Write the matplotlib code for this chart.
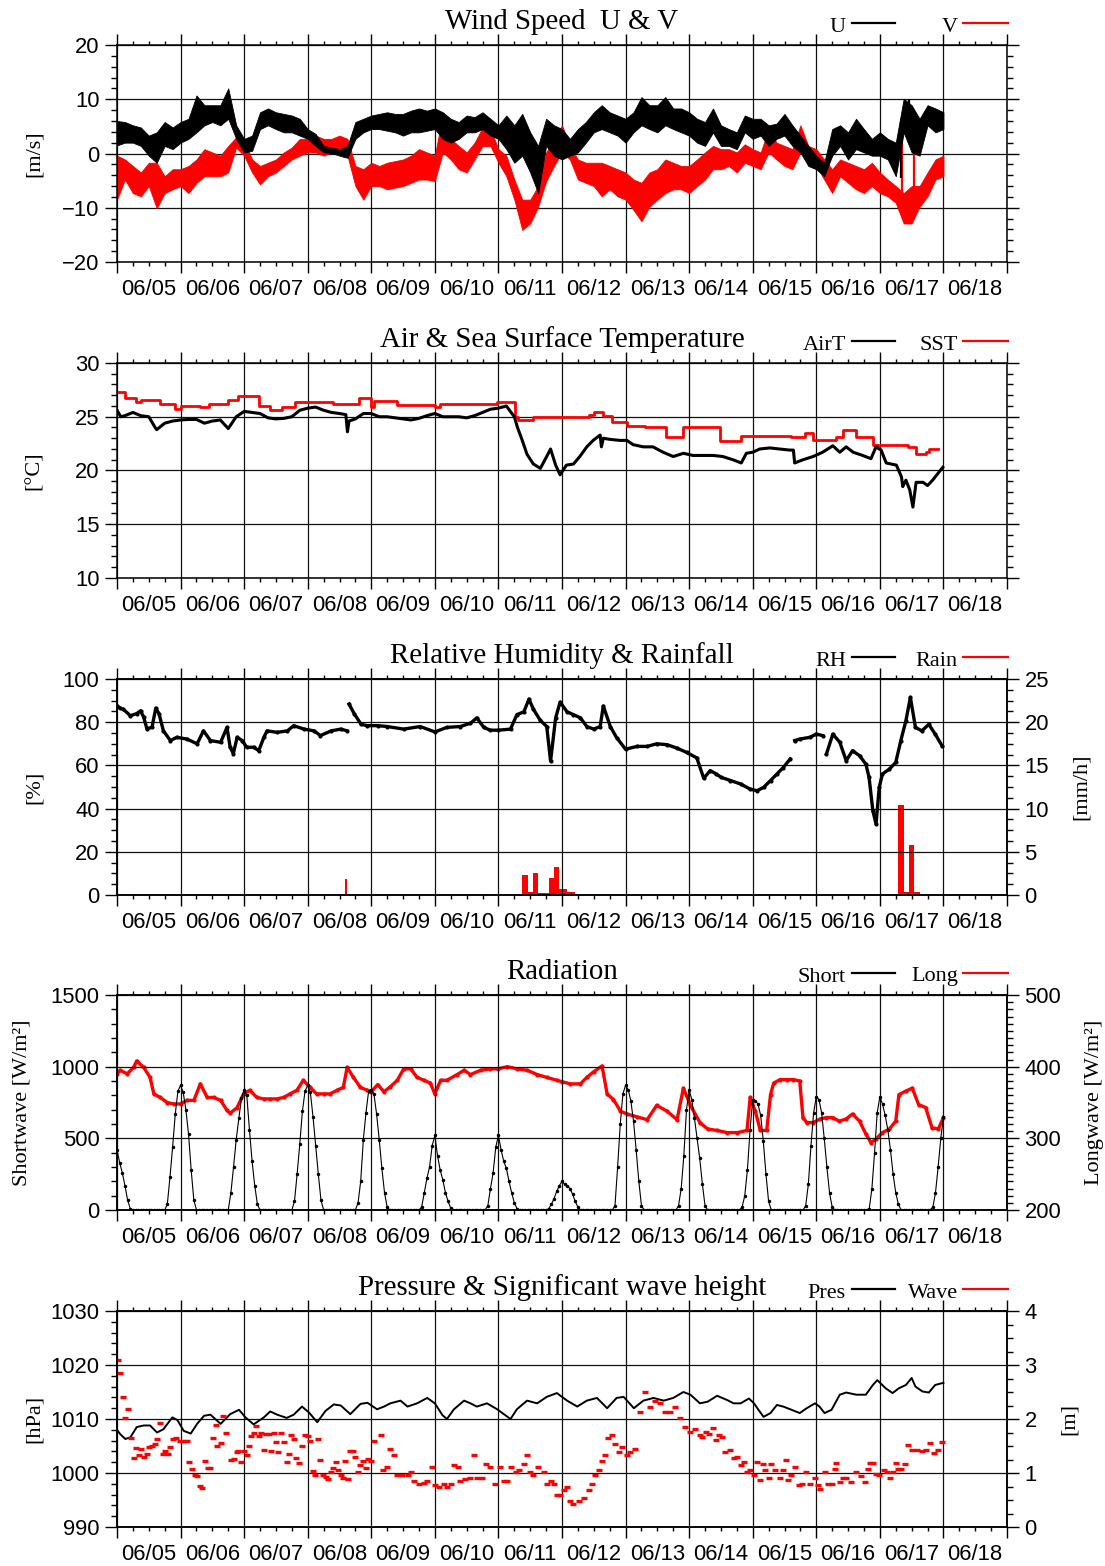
#!/usr/bin/env python
# -*- coding:UTF-8 -*-
# Buoy time series, 06/05 - 06/18 : wind, temperature, humidity/rain, radiation, pressure/wave

import numpy as np
import matplotlib
matplotlib.use('Agg')
import matplotlib.pyplot as plt
from matplotlib.ticker import MultipleLocator, FuncFormatter
from matplotlib.lines import Line2D

# time axis is in days since 06/05 00:00
day_labels = ['06/05', '06/06', '06/07', '06/08', '06/09', '06/10', '06/11',
              '06/12', '06/13', '06/14', '06/15', '06/16', '06/17', '06/18']

# ---- wind: 3-hourly envelope (min / max) of U and V [m/s] ----
wind_step = 0.125
u_lo = [1.5, 2.0, 2.0, 1.4, -0.4, -1.7, 1.4, 0.8, 2.0, 2.7,
        3.9, 5.2, 5.8, 5.2, 6.4, 2.7, 0.2, 0.5, 4.5, 5.2,
        4.5, 3.9, 3.9, 3.3, 2.7, 1.4, 0.2, 0.1, -0.4, -0.8,
        2.7, 3.9, 4.5, 4.5, 4.2, 3.9, 3.3, 3.9, 3.9, 4.2,
        4.5, 2.7, 2.0, 2.7, 3.9, 3.9, 4.5, 3.3, 2.7, 0.8,
        -1.7, -0.4, -3.5, -7.3, 1.4, -0.4, -1.1, -0.4, 0.2, 2.0,
        3.9, 4.5, 3.9, 3.3, 2.0, 3.9, 5.2, 4.5, 3.9, 5.2,
        4.5, 3.9, 3.3, 2.0, 1.4, 3.9, 1.4, 1.4, 0.8, 3.9,
        2.7, 3.3, 1.4, 2.7, 3.3, 1.4, 0.2, -2.3, -2.9, -4.2,
        -0.4, 1.4, -1.1, 0.8, 0.2, -0.4, -0.4, -1.1, -4.2, 3.9,
        0.2, -0.4, 5.2, 3.9, 4.5]
u_hi = [6.0, 5.8, 5.2, 4.8, 3.3, 3.9, 5.8, 4.8, 5.8, 6.4,
        10.7, 8.9, 8.9, 8.9, 12.0, 5.2, 2.7, 3.3, 7.6, 8.3,
        7.6, 7.3, 7.0, 6.4, 4.5, 3.6, 1.4, 1.1, 0.8, 1.4,
        5.8, 6.4, 7.0, 7.3, 7.6, 7.3, 7.3, 7.9, 8.3, 7.9,
        8.3, 7.6, 6.4, 5.8, 7.0, 6.7, 7.6, 6.4, 5.2, 7.0,
        5.2, 7.3, 3.9, 1.4, 6.4, 5.2, 4.5, 2.7, 4.5, 5.8,
        7.6, 8.9, 7.6, 7.0, 6.4, 7.6, 10.4, 8.9, 8.9, 10.4,
        8.3, 8.3, 7.6, 6.4, 5.8, 8.3, 5.2, 4.5, 3.9, 7.0,
        6.4, 6.4, 5.2, 5.5, 7.3, 5.2, 3.3, 1.4, -0.4, -1.7,
        4.5, 5.2, 3.9, 6.4, 4.5, 2.7, 3.9, 2.7, 2.0, 10.1,
        8.9, 6.4, 8.9, 8.3, 7.6]
v_lo = [-8.5, -4.8, -7.3, -7.9, -6.0, -10.1, -7.3, -6.6, -6.0, -7.3,
        -5.4, -4.2, -4.2, -4.2, -3.5, 1.1, -0.4, -3.5, -5.7, -4.2,
        -3.5, -2.3, -1.1, -0.4, 0.2, 0.2, -0.4, 0.2, 0.2, -0.4,
        -6.0, -8.5, -6.0, -6.0, -6.6, -6.3, -6.0, -5.4, -4.8, -4.8,
        -5.1, 0.2, -1.1, -2.9, -3.5, -1.1, 1.4, 1.4, -1.7, -4.2,
        -8.5, -14.1, -12.9, -9.8, -5.1, -2.3, 0.2, -1.1, -4.8, -5.4,
        -6.0, -7.9, -6.6, -7.9, -8.5, -10.4, -12.5, -9.8, -8.5, -7.3,
        -6.6, -6.6, -7.3, -6.0, -4.8, -2.9, -2.9, -2.3, -3.5, -1.7,
        -2.3, -2.9, 0.2, -1.1, -2.3, -2.9, 0.2, -1.1, -2.3, -4.8,
        -7.3, -4.2, -5.4, -6.6, -7.3, -6.0, -7.3, -7.9, -9.1, -12.9,
        -12.9, -9.8, -7.9, -4.8, -4.2]
v_hi = [-0.4, -1.1, -2.3, -3.5, -1.7, -1.7, -4.2, -2.9, -2.9, -2.3,
        -1.1, 0.8, 0.2, -0.4, 1.4, 3.0, 2.4, -1.1, -2.3, -1.7,
        -1.1, 0.2, 1.1, 2.7, 2.7, 3.3, 2.7, 2.7, 3.3, 2.7,
        -2.3, -2.9, -1.7, -2.3, -1.7, -1.4, -1.1, -0.4, 0.8, 0.2,
        -0.4, 7.3, 2.7, 1.4, 0.2, 2.0, 4.8, 4.5, 0.8, -0.4,
        -4.8, -8.5, -8.5, -6.0, 0.2, 2.7, 5.2, 1.4, -1.1, -1.7,
        -1.7, -1.7, -2.3, -2.9, -3.5, -4.8, -5.4, -3.5, -2.9, -1.1,
        -1.7, -2.3, -2.3, -1.1, 0.2, 1.4, 0.8, 0.8, 0.2, 1.7,
        0.8, 0.2, 4.5, 2.0, 1.4, 0.8, 5.2, 1.4, 0.8, -1.1,
        -2.9, -1.1, -1.7, -2.3, -2.9, -1.7, -3.5, -4.8, -6.0, -7.3,
        -6.0, -6.0, -3.5, -1.1, -0.4]
# short gust spikes on 06/17
u_spike_t = [12.33, 12.46]
u_spike_lo = [-4.5, 2.0]
u_spike_hi = [6.0, 10.0]
v_spike_t = [12.35, 12.53]
v_spike_lo = [-10.0, -9.0]
v_spike_hi = [5.5, 4.0]

# ---- air temperature and SST [degC] ----
air_t = [0.00, 0.06, 0.125, 0.25, 0.375, 0.50, 0.60, 0.625, 0.75, 0.875,
         1.00, 1.125, 1.25, 1.375, 1.50, 1.625, 1.75, 1.875, 2.00, 2.125,
         2.25, 2.375, 2.50, 2.625, 2.75, 2.875, 3.00, 3.125, 3.25, 3.375,
         3.50, 3.60, 3.625, 3.65, 3.75, 3.875, 4.00, 4.125, 4.25, 4.375,
         4.50, 4.625, 4.75, 4.875, 5.00, 5.125, 5.25, 5.375, 5.50, 5.625,
         5.75, 5.875, 6.00, 6.125, 6.25, 6.30, 6.375, 6.45, 6.55, 6.66,
         6.75, 6.82, 6.90, 6.97, 7.07, 7.18, 7.28, 7.39, 7.49, 7.60,
         7.62, 7.65, 7.75, 7.91, 8.02, 8.12, 8.28, 8.43, 8.59, 8.75,
         8.91, 9.06, 9.22, 9.38, 9.53, 9.69, 9.82, 9.90, 10.00, 10.11,
         10.27, 10.42, 10.58, 10.64, 10.66, 10.79, 10.95, 11.10, 11.26, 11.37,
         11.47, 11.58, 11.73, 11.86, 11.94, 12.02, 12.10, 12.26, 12.34, 12.36,
         12.41, 12.47, 12.52, 12.57, 12.68, 12.75, 12.83, 12.91, 12.99]
air_c = [25.6, 25.0, 25.1, 25.4, 25.1, 25.0, 24.0, 23.8, 24.4, 24.6,
         24.7, 24.75, 24.75, 24.4, 24.6, 24.7, 23.9, 25.0, 25.5, 25.4,
         25.3, 24.9, 24.8, 24.85, 25.0, 25.6, 25.8, 25.9, 25.6, 25.4,
         25.3, 25.2, 23.6, 24.6, 24.8, 25.3, 25.3, 25.0, 25.0, 24.9,
         24.8, 24.7, 24.85, 25.1, 25.3, 25.0, 25.0, 25.0, 24.9, 25.1,
         25.4, 25.7, 25.8, 26.0, 25.0, 24.0, 22.8, 21.5, 20.6, 20.2,
         21.2, 22.0, 20.5, 19.6, 20.5, 20.6, 21.3, 22.2, 22.8, 23.3,
         22.2, 23.0, 22.9, 22.8, 22.8, 22.4, 22.2, 22.2, 21.7, 21.3,
         21.6, 21.4, 21.4, 21.4, 21.3, 21.0, 20.7, 21.6, 21.7, 22.0,
         22.1, 22.0, 21.9, 21.9, 20.7, 21.0, 21.3, 21.7, 22.3, 21.7,
         22.2, 21.7, 21.4, 21.1, 22.2, 21.9, 20.7, 20.5, 19.4, 18.5,
         19.1, 18.2, 16.6, 18.9, 18.9, 18.6, 19.1, 19.7, 20.3]
sst_t = [0.00, 0.13, 0.30, 0.37, 0.68, 0.92, 1.00, 1.30, 1.45, 1.75,
         1.90, 2.23, 2.40, 2.60, 2.80, 3.40, 3.80, 4.00, 4.05, 4.40,
         5.00, 5.08, 5.98, 6.26, 6.30, 6.55, 7.42, 7.50, 7.65, 7.78,
         8.02, 8.30, 8.64, 8.91, 9.48, 9.82, 10.61, 10.82, 10.95, 11.31,
         11.42, 11.63, 11.89, 12.44, 12.57, 12.73, 12.78, 12.91]
sst_c = [27.3, 26.7, 26.4, 26.6, 26.2, 25.7, 26.0, 25.9, 26.2, 26.6,
         26.9, 26.0, 25.6, 25.9, 26.4, 26.2, 26.7, 25.9, 26.5, 26.1,
         25.9, 26.2, 26.4, 25.0, 24.7, 25.0, 25.15, 25.4, 25.1, 24.5,
         24.1, 24.0, 23.1, 24.0, 22.7, 23.2, 23.1, 23.5, 22.8, 23.1,
         23.8, 23.1, 22.4, 22.2, 21.5, 21.7, 22.0, 22.0]

# ---- relative humidity [%] (nan = gap) and hourly rain [mm/h] ----
nan = np.nan
rh_t = [0.00, 0.05, 0.10, 0.21, 0.31, 0.37, 0.42, 0.47, 0.55, 0.61,
        0.66, 0.73, 0.84, 0.94, 1.10, 1.26, 1.36, 1.47, 1.63, 1.73,
        1.78, 1.83, 1.89, 1.97, 2.04, 2.15, 2.23, 2.31, 2.36, 2.52,
        2.68, 2.78, 2.94, 3.10, 3.20, 3.37, 3.52, 3.62, 3.635, 3.65,
        3.73, 3.84, 3.94, 4.10, 4.25, 4.51, 4.77, 5.00, 5.19, 5.40,
        5.56, 5.66, 5.77, 5.87, 6.00, 6.19, 6.29, 6.40, 6.48, 6.55,
        6.66, 6.76, 6.82, 6.90, 6.97, 7.08, 7.18, 7.29, 7.39, 7.50,
        7.60, 7.65, 7.76, 7.86, 8.00, 8.18, 8.34, 8.49, 8.65, 8.81,
        8.96, 9.12, 9.23, 9.33, 9.43, 9.50, 9.65, 9.81, 9.96, 10.07,
        10.17, 10.28, 10.38, 10.48, 10.59, 10.62, 10.66, 10.74, 10.90, 11.00,
        11.10, 11.13, 11.16, 11.26, 11.37, 11.47, 11.57, 11.68, 11.78, 11.83,
        11.89, 11.94, 11.99, 12.04, 12.15, 12.25, 12.33, 12.41, 12.48, 12.56,
        12.66, 12.77, 12.87, 12.98]
rh = [87.7, 86.5, 86.0, 83.0, 84.0, 85.3, 82.3, 77.0, 77.6, 86.5,
      84.0, 76.0, 71.5, 73.0, 72.2, 70.0, 76.0, 71.5, 70.7, 77.6,
      68.4, 65.5, 73.0, 71.5, 68.4, 68.4, 66.8, 73.0, 76.0, 75.3,
      76.0, 78.4, 76.8, 76.0, 73.8, 76.0, 76.8, 76.0, nan, 88.4,
      84.0, 79.0, 78.4, 78.4, 78.0, 76.8, 78.0, 75.5, 77.6, 78.0,
      79.5, 82.0, 77.6, 76.3, 76.3, 76.8, 83.5, 84.8, 90.7, 86.0,
      80.8, 78.0, 62.0, 82.0, 89.3, 84.8, 83.5, 82.0, 78.0, 76.8,
      78.0, 87.5, 78.0, 72.8, 67.5, 68.8, 68.8, 70.0, 69.6, 68.0,
      66.0, 63.5, 54.0, 57.6, 56.0, 54.5, 53.0, 51.4, 49.0, 48.3,
      49.8, 53.0, 56.0, 59.0, 63.0, nan, 71.5, 72.2, 73.0, 74.5,
      73.8, nan, 65.3, 74.5, 70.7, 62.2, 66.8, 64.5, 60.6, 54.5,
      39.0, 32.9, 49.8, 56.0, 58.3, 61.4, 71.5, 80.7, 91.5, 77.6,
      76.0, 79.0, 74.5, 69.0]
rain_hour = [6, 86, 139,
             153, 154, 155, 156, 157, 158, 159, 160, 161, 162,
             163, 164, 165, 166, 167, 168, 169, 170, 171, 172,
             295, 296, 297, 298, 299, 300, 301, 302]
rain_mmh = [0.1, 1.8, 0.1,
            2.3, 2.3, 0.3, 0.3, 2.5, 2.5, 0.2, 0.2, 0.2, 0.2,
            2.0, 2.0, 3.2, 3.2, 0.7, 0.7, 0.7, 0.4, 0.4, 0.4,
            10.4, 10.4, 0.4, 0.4, 5.8, 5.8, 0.4, 0.4]

# ---- radiation: hourly shortwave [W/m2], one row per day ----
sw_hourly = [
    420, 330, 260, 170, 70, 10, 0, 0, 0, 0, 0, 0, 0, 0, 0, 0, 0, 0, 0, 40, 230, 440, 670, 830,
    870, 820, 700, 530, 280, 70, 0, 0, 0, 0, 0, 0, 0, 0, 0, 0, 0, 0, 0, 120, 300, 490, 640, 780,
    840, 800, 560, 340, 170, 40, 0, 0, 0, 0, 0, 0, 0, 0, 0, 0, 0, 0, 0, 60, 250, 460, 690, 830,
    870, 820, 650, 450, 250, 70, 0, 0, 0, 0, 0, 0, 0, 0, 0, 0, 0, 0, 0, 50, 200, 490, 680, 830,
    840, 810, 670, 490, 290, 120, 20, 0, 0, 0, 0, 0, 0, 0, 0, 0, 0, 0, 0, 20, 120, 220, 300, 450,
    520, 380, 280, 210, 120, 60, 12, 0, 0, 0, 0, 0, 0, 0, 0, 0, 0, 0, 0, 0, 30, 150, 260, 440,
    520, 420, 340, 290, 200, 120, 50, 10, 0, 0, 0, 0, 0, 0, 0, 0, 0, 0, 0, 10, 40, 80, 130, 170,
    200, 180, 170, 150, 110, 60, 20, 0, 0, 0, 0, 0, 0, 0, 0, 0, 0, 0, 0, 0, 30, 300, 600, 810,
    870, 840, 760, 620, 420, 200, 30, 0, 0, 0, 0, 0, 0, 0, 0, 0, 0, 0, 0, 0, 30, 150, 380, 700,
    840, 770, 640, 500, 360, 180, 30, 0, 0, 0, 0, 0, 0, 0, 0, 0, 0, 0, 0, 0, 20, 100, 280, 560,
    770, 760, 740, 660, 480, 250, 60, 0, 0, 0, 0, 0, 0, 0, 0, 0, 0, 0, 0, 0, 30, 180, 450, 680,
    790, 770, 680, 500, 300, 120, 20, 0, 0, 0, 0, 0, 0, 0, 0, 0, 0, 0, 0, 0, 10, 150, 400, 680,
    790, 740, 660, 560, 420, 250, 120, 40, 0, 0, 0, 0, 0, 0, 0, 0, 0, 0, 0, 0, 20, 120, 300, 500,
    650]
# longwave [W/m2]
lw_t = [0.00, 0.05, 0.16, 0.26, 0.31, 0.42, 0.52, 0.58, 0.68, 0.79,
        0.89, 1.00, 1.10, 1.21, 1.31, 1.42, 1.52, 1.63, 1.73, 1.78,
        1.89, 1.99, 2.09, 2.20, 2.31, 2.41, 2.51, 2.62, 2.72, 2.83,
        2.93, 3.04, 3.14, 3.25, 3.35, 3.46, 3.56, 3.62, 3.72, 3.83,
        3.94, 3.99, 4.10, 4.20, 4.30, 4.41, 4.51, 4.62, 4.72, 4.83,
        4.93, 5.00, 5.09, 5.19, 5.35, 5.46, 5.56, 5.72, 5.87, 6.00,
        6.14, 6.29, 6.45, 6.61, 6.76, 6.92, 7.00, 7.13, 7.29, 7.39,
        7.50, 7.63, 7.71, 7.81, 7.92, 8.02, 8.18, 8.34, 8.49, 8.65,
        8.81, 8.91, 9.02, 9.17, 9.29, 9.44, 9.60, 9.76, 9.91, 9.96,
        10.04, 10.12, 10.22, 10.28, 10.33, 10.43, 10.54, 10.64, 10.74, 10.79,
        10.85, 10.95, 11.06, 11.16, 11.26, 11.36, 11.47, 11.57, 11.68, 11.78,
        11.86, 11.94, 12.04, 12.15, 12.25, 12.30, 12.41, 12.51, 12.61, 12.72,
        12.82, 12.92, 13.00]
lw = [390, 395, 390, 399, 408, 399, 385, 362, 357, 350,
      348, 348, 353, 353, 376, 357, 357, 353, 339, 335,
      343, 362, 367, 357, 355, 355, 355, 357, 362, 367,
      381, 371, 362, 362, 362, 367, 371, 399, 385, 371,
      367, 364, 375, 365, 372, 381, 397, 397, 385, 381,
      377, 362, 381, 381, 389, 395, 389, 395, 397, 397,
      400, 397, 395, 389, 385, 381, 379, 376, 376, 385,
      393, 401, 362, 354, 338, 334, 330, 326, 346, 338,
      326, 370, 346, 322, 313, 311, 308, 308, 311, 357,
      338, 311, 311, 361, 377, 382, 382, 382, 380, 329,
      322, 322, 327, 329, 329, 324, 327, 334, 324, 306,
      294, 299, 308, 313, 324, 361, 366, 370, 347, 343,
      315, 313, 329]

# ---- sea level pressure [hPa] and significant wave height [m] ----
pres_t = [0.00, 0.05, 0.13, 0.21, 0.31, 0.42, 0.52, 0.63, 0.73, 0.87,
          0.95, 1.05, 1.16, 1.26, 1.37, 1.47, 1.63, 1.78, 1.92, 2.02,
          2.15, 2.31, 2.41, 2.52, 2.67, 2.78, 2.91, 3.02, 3.15, 3.28,
          3.41, 3.52, 3.67, 3.83, 3.94, 4.09, 4.20, 4.30, 4.46, 4.57,
          4.72, 4.88, 5.00, 5.12, 5.19, 5.30, 5.46, 5.56, 5.66, 5.82,
          5.98, 6.19, 6.29, 6.45, 6.61, 6.76, 6.92, 7.08, 7.24, 7.39,
          7.55, 7.71, 7.86, 7.97, 8.13, 8.28, 8.44, 8.60, 8.75, 8.91,
          9.02, 9.17, 9.29, 9.44, 9.60, 9.70, 9.81, 9.94, 10.02, 10.09,
          10.17, 10.28, 10.38, 10.48, 10.59, 10.74, 10.85, 10.98, 11.05, 11.13,
          11.24, 11.37, 11.47, 11.63, 11.78, 11.89, 11.96, 12.09, 12.20, 12.30,
          12.41, 12.50, 12.56, 12.67, 12.77, 12.87, 13.00]
pres = [1008.0, 1007.2, 1006.3, 1006.6, 1008.5, 1008.8, 1008.8, 1007.5, 1008.1, 1010.3,
        1009.8, 1007.8, 1007.3, 1009.1, 1010.6, 1010.8, 1009.1, 1010.9, 1011.7, 1010.3,
        1009.0, 1010.3, 1011.4, 1010.8, 1010.2, 1010.8, 1012.3, 1011.2, 1009.4, 1011.5,
        1012.7, 1012.5, 1010.9, 1012.8, 1013.0, 1011.8, 1012.3, 1012.9, 1013.4, 1012.3,
        1012.9, 1013.9, 1012.9, 1010.7, 1010.0, 1011.8, 1013.4, 1012.9, 1012.3, 1012.9,
        1011.8, 1010.0, 1011.8, 1013.4, 1012.9, 1014.1, 1014.8, 1013.4, 1012.3, 1013.4,
        1013.9, 1012.0, 1013.9, 1014.1, 1012.0, 1013.4, 1013.9, 1013.4, 1013.9, 1015.0,
        1014.5, 1012.9, 1013.2, 1014.3, 1013.5, 1012.9, 1012.9, 1013.8, 1012.9, 1011.7,
        1010.4, 1011.1, 1012.6, 1012.3, 1011.8, 1011.1, 1012.0, 1012.9, 1012.3, 1011.1,
        1011.7, 1014.5, 1014.9, 1014.5, 1014.5, 1016.3, 1017.2, 1015.7, 1014.8, 1015.7,
        1016.3, 1017.6, 1016.0, 1015.1, 1014.9, 1016.3, 1016.7]
wave_t = [0.02, 0.05, 0.09, 0.13, 0.17, 0.22, 0.26, 0.30, 0.34, 0.38,
          0.42, 0.47, 0.51, 0.55, 0.59, 0.63, 0.67, 0.72, 0.76, 0.80,
          0.84, 0.88, 0.93, 0.99, 1.05, 1.10, 1.14, 1.18, 1.22, 1.26,
          1.30, 1.34, 1.38, 1.43, 1.47, 1.51, 1.55, 1.58, 1.63, 1.67,
          1.71, 1.79, 1.84, 1.88, 1.91, 1.95, 1.99, 2.04, 2.08, 2.11,
          2.15, 2.19, 2.23, 2.27, 2.31, 2.35, 2.39, 2.43, 2.47, 2.50,
          2.54, 2.58, 2.62, 2.67, 2.70, 2.74, 2.79, 2.82, 2.86, 2.91,
          2.95, 3.00, 3.04, 3.08, 3.12, 3.16, 3.20, 3.24, 3.28, 3.32,
          3.36, 3.40, 3.44, 3.48, 3.52, 3.56, 3.59, 3.64, 3.67, 3.71,
          3.75, 3.79, 3.83, 3.87, 3.91, 3.95, 3.99,
          4.04, 4.15, 4.19, 4.25, 4.30, 4.36, 4.41, 4.49, 4.57, 4.62,
          4.67, 4.75, 4.83, 4.88, 4.96, 5.01, 5.06, 5.14, 5.19, 5.25,
          5.30, 5.36, 5.40, 5.48, 5.56, 5.61, 5.66, 5.74, 5.80, 5.87,
          5.95, 6.03, 6.08, 6.14, 6.19, 6.27, 6.32, 6.40, 6.45, 6.50,
          6.55, 6.63, 6.71, 6.76, 6.82, 6.87, 6.92, 6.97, 7.03, 7.08,
          7.13, 7.18, 7.26, 7.34, 7.42, 7.47, 7.52, 7.58, 7.63, 7.68,
          7.73, 7.79, 7.84, 7.89, 7.94, 8.02, 8.07, 8.15, 8.23, 8.31,
          8.39, 8.47, 8.54, 8.62, 8.70, 8.78, 8.86, 8.94, 9.02, 9.09,
          9.17, 9.21, 9.26, 9.31, 9.38, 9.42, 9.47, 9.52, 9.57, 9.65,
          9.70, 9.76, 9.81, 9.86, 9.91, 9.96, 10.02, 10.07, 10.11, 10.16,
          10.20, 10.25, 10.29, 10.35, 10.43, 10.48, 10.52, 10.56, 10.61, 10.66,
          10.73, 10.78, 10.84, 10.90, 10.98, 11.03, 11.06, 11.13, 11.18, 11.24,
          11.29, 11.31, 11.37, 11.42, 11.47, 11.55, 11.63, 11.70, 11.76, 11.81,
          11.84, 11.89, 11.94, 11.99, 12.07, 12.11, 12.16, 12.20, 12.25, 12.29,
          12.34, 12.39, 12.45, 12.51, 12.59, 12.66, 12.72, 12.79, 12.85, 12.91,
          12.98]
wave_m = [3.10, 2.85, 2.41, 2.01, 2.19, 1.65, 1.27, 1.47, 1.33, 1.44,
          1.29, 1.36, 1.49, 1.50, 1.54, 1.63, 1.92, 1.35, 1.41, 1.36,
          1.49, 1.63, 1.65, 1.59, 1.60, 1.60, 1.20, 1.07, 0.97, 0.95,
          0.76, 0.73, 1.23, 1.09, 1.10, 1.65, 1.88, 1.50, 1.55, 2.05,
          1.75, 1.24, 1.26, 1.38, 1.41, 1.21, 1.40, 1.33, 1.50, 1.69,
          1.75, 1.87, 1.69, 1.74, 1.42, 1.73, 1.72, 1.41, 1.74, 1.57,
          1.39, 1.75, 1.57, 1.20, 1.36, 1.71, 1.63, 1.28, 1.19, 1.50,
          1.71, 1.69, 1.59, 1.04, 0.97, 1.63, 1.24, 0.97, 0.92, 0.89,
          1.01, 1.10, 1.21, 1.05, 0.96, 0.90, 1.23, 0.89, 1.41, 1.40,
          1.29, 1.01, 1.15, 1.23, 1.10, 1.26, 1.23,
          1.60, 1.70, 1.06, 1.12, 1.44, 1.33, 0.96, 0.96, 0.96, 1.01,
          0.85, 0.80, 0.82, 0.85, 1.12, 0.78, 0.74, 0.80, 0.74, 0.80,
          1.14, 1.12, 0.85, 0.88, 0.90, 1.33, 0.90, 0.90, 1.17, 1.12,
          0.80, 1.12, 0.85, 0.85, 1.12, 1.01, 1.06, 1.17, 1.33, 1.01,
          0.96, 1.12, 1.01, 0.80, 0.85, 0.80, 0.59, 0.59, 0.69, 0.74,
          0.48, 0.43, 0.48, 0.53, 0.69, 0.80, 0.96, 1.06, 1.22, 1.33,
          1.65, 1.70, 1.54, 1.38, 1.49, 1.33, 1.38, 1.44, 2.13, 2.50,
          2.23, 2.34, 2.29, 2.13, 2.13, 2.23, 2.02, 1.86, 1.76, 1.81,
          1.70, 1.67, 1.76, 1.73, 1.83, 1.61, 1.70, 1.67, 1.39, 1.42,
          1.27, 1.30, 1.15, 1.21, 1.02, 1.05, 0.96, 1.21, 0.87, 1.16,
          1.05, 0.90, 1.16, 1.05, 0.90, 1.05, 1.24, 0.87, 0.96, 1.11,
          0.77, 0.80, 1.02, 0.80, 0.90, 0.77, 0.71, 1.02, 0.80, 0.80,
          1.07, 1.18, 0.84, 0.90, 0.90, 0.84, 1.02, 0.94, 0.84, 1.07,
          1.19, 1.19, 0.98, 0.96, 1.05, 1.02, 0.90, 1.01, 1.18, 1.07,
          1.08, 1.16, 1.52, 1.42, 1.42, 1.41, 1.42, 1.55, 1.37, 1.42,
          1.58]

# ---------------------------------------------------------------------------
W, H = 1105, 1566
SERIF = 'Liberation Serif'
SANS = 'Liberation Sans'
RED = '#ff0000'
TICK_FS = 15.8
plt.rcParams['font.family'] = SANS
plt.rcParams['font.size'] = TICK_FS
plt.rcParams['axes.linewidth'] = 1.1

AX_LEFT, AX_RIGHT = 117, 1007
PANELS = [(45, 262), (363, 578), (679, 895), (995, 1210), (1311, 1527)]

fmt = FuncFormatter(lambda v, p: ('%g' % v).replace('-', '\u2212'))


def fx(x):
    return x / W


def fy(y):
    return 1 - y / H


def style_y(ax, lo, hi, major, minor, side='left'):
    ax.set_ylim(lo, hi)
    ax.yaxis.set_major_locator(MultipleLocator(major))
    ax.yaxis.set_minor_locator(MultipleLocator(minor))
    ax.yaxis.set_major_formatter(fmt)
    if side == 'left':
        kw = dict(left=True, right=False, labelleft=True, labelright=False)
    elif side == 'both':
        kw = dict(left=True, right=True, labelleft=True, labelright=False)
    else:
        kw = dict(left=False, right=True, labelleft=False, labelright=True)
    ax.tick_params(axis='y', which='major', direction='out', length=8.6, width=1.0,
                   labelsize=TICK_FS, pad=4, **kw)
    ax.tick_params(axis='y', which='minor', direction='out', length=4.3, width=1.0, **kw)


def make_panel(top, bottom):
    ax = fig.add_axes([fx(AX_LEFT), fy(bottom), fx(AX_RIGHT - AX_LEFT), (bottom - top) / H])
    ax.set_xlim(0, 14)
    ax.xaxis.set_major_locator(MultipleLocator(1))
    ax.xaxis.set_minor_locator(MultipleLocator(0.25))
    ax.tick_params(axis='x', which='major', direction='out', length=8.0, width=1.0,
                   top=True, bottom=True, labelbottom=False)
    ax.tick_params(axis='x', which='minor', direction='out', length=3.2, width=1.0,
                   top=True, bottom=True)
    ax.grid(True, which='major', color='#111111', lw=0.9)
    ax.set_axisbelow(True)
    for i, lab in enumerate(day_labels):
        ax.annotate(lab, xy=(i + 0.5, 0), xycoords=('data', 'axes fraction'),
                    xytext=(0, -12.5), textcoords='offset points',
                    ha='center', va='top', fontsize=TICK_FS, family=SANS)
    return ax


def decorate(top, bottom, title, names, colors, ylabel, ylabel_x=34,
             rlabel=None, rlabel_x=1080):
    fig.text(fx(562), fy(top - 16), title, ha='center', va='baseline',
             family=SERIF, fontsize=20.8)
    for (xr, x0, x1), name, col in zip([(846, 852, 895), (958, 963, 1008)], names, colors):
        fig.text(fx(xr), fy(top - 13.5), name, ha='right', va='baseline',
                 family=SERIF, fontsize=16)
        fig.add_artist(Line2D([fx(x0), fx(x1)], [fy(top - 22)] * 2, color=col, lw=1.6))
    mid = (top + bottom) / 2
    fig.text(fx(ylabel_x), fy(mid), ylabel, rotation=90, ha='center', va='center',
             family=SERIF, fontsize=16)
    if rlabel:
        fig.text(fx(rlabel_x), fy(mid), rlabel, rotation=90, ha='center', va='center',
                 family=SERIF, fontsize=16)


fig = plt.figure(figsize=(W / 100, H / 100), dpi=100)
fig.patch.set_facecolor('white')

# ---- 1. wind ----
top, bottom = PANELS[0]
ax1 = make_panel(top, bottom)
style_y(ax1, -20, 20, 10, 2, side='both')
tw = np.arange(len(u_lo)) * wind_step
ax1.fill_between(tw, v_lo, v_hi, color=RED, lw=0.6, zorder=2)
ax1.vlines(v_spike_t, v_spike_lo, v_spike_hi, color=RED, lw=1.6, zorder=2)
ax1.fill_between(tw, u_lo, u_hi, color='k', lw=0.6, zorder=3)
ax1.vlines(u_spike_t, u_spike_lo, u_spike_hi, color='k', lw=1.6, zorder=3)
decorate(top, bottom, 'Wind Speed  U & V', ['U', 'V'], ['k', RED], '[m/s]')

# ---- 2. temperature ----
top, bottom = PANELS[1]
ax2 = make_panel(top, bottom)
style_y(ax2, 10, 30, 5, 1, side='both')
ax2.step(sst_t, sst_c, where='post', color=RED, lw=2.0)
ax2.plot(air_t, air_c, color='k', lw=2.2)
decorate(top, bottom, 'Air & Sea Surface Temperature', ['AirT', 'SST'], ['k', RED], '[\u00b0C]')

# ---- 3. humidity & rain ----
top, bottom = PANELS[2]
ax3 = make_panel(top, bottom)
style_y(ax3, 0, 100, 20, 5)
ax3r = ax3.twinx()
style_y(ax3r, 0, 25, 5, 1.25, side='right')
ax3r.bar(np.array(rain_hour) / 24.0, rain_mmh, width=1 / 24.0, align='edge',
         color=RED, lw=0)
ax3.set_zorder(ax3r.get_zorder() + 1)
ax3.patch.set_visible(False)
ax3.plot(rh_t, rh, color='k', lw=2.4, marker='.', ms=4)
decorate(top, bottom, 'Relative Humidity & Rainfall', ['RH', 'Rain'], ['k', RED], '[%]',
         rlabel='[mm/h]', rlabel_x=1081)

# ---- 4. radiation ----
top, bottom = PANELS[3]
ax4 = make_panel(top, bottom)
style_y(ax4, 0, 1500, 500, 100)
ax4r = ax4.twinx()
style_y(ax4r, 200, 500, 100, 10, side='right')
ax4r.plot(lw_t, lw, color=RED, lw=2.4, marker='.', ms=4)
ax4.set_zorder(ax4r.get_zorder() + 1)
ax4.patch.set_visible(False)
sw_t = np.arange(len(sw_hourly)) / 24.0
ax4.plot(sw_t, sw_hourly, color='k', lw=0.8, marker='.', ms=3)
decorate(top, bottom, 'Radiation', ['Short', 'Long'], ['k', RED],
         'Shortwave [W/m\u00b2]', ylabel_x=22,
         rlabel='Longwave [W/m\u00b2]', rlabel_x=1094)

# ---- 5. pressure & wave ----
top, bottom = PANELS[4]
ax5 = make_panel(top, bottom)
style_y(ax5, 990, 1030, 10, 2)
ax5r = ax5.twinx()
style_y(ax5r, 0, 4, 1, 0.25, side='right')
ax5r.plot(wave_t, wave_m, ls='none', marker='_', ms=5, mew=2.4, color=RED)
ax5.plot(pres_t, pres, color='k', lw=1.4)
decorate(top, bottom, 'Pressure & Significant wave height', ['Pres', 'Wave'], ['k', RED],
         '[hPa]', rlabel='[m]', rlabel_x=1069)

fig.savefig('out.png', dpi=100, facecolor='white')
